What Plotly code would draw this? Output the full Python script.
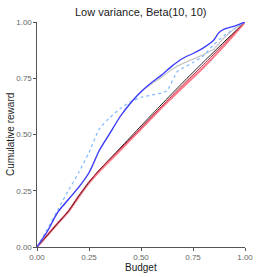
import plotly.graph_objects as go

# Budget grid for each series
x_blue = [0, 0.05, 0.1, 0.15, 0.2, 0.25, 0.3, 0.35, 0.4, 0.45, 0.5, 0.55, 0.6, 0.65, 0.7, 0.75, 0.8, 0.85, 0.875, 0.9, 0.95, 1.0]
y_blue = [0, 0.07, 0.155, 0.21, 0.265, 0.33, 0.43, 0.505, 0.58, 0.64, 0.69, 0.73, 0.765, 0.805, 0.838, 0.86, 0.885, 0.92, 0.953, 0.968, 0.982, 1.0]

x_gray = [0, 0.05, 0.1, 0.15, 0.2, 0.25, 0.3, 0.35, 0.4, 0.45, 0.5, 0.55, 0.6, 0.65, 0.7, 0.75, 0.8, 0.85, 0.9, 0.95, 1.0]
y_gray = [0, 0.07, 0.155, 0.21, 0.265, 0.33, 0.43, 0.505, 0.58, 0.64, 0.69, 0.725, 0.755, 0.79, 0.815, 0.835, 0.855, 0.88, 0.93, 0.97, 1.0]

x_dot = [0, 0.05, 0.1, 0.15, 0.2, 0.25, 0.3, 0.35, 0.4, 0.45, 0.5, 0.55, 0.6, 0.625, 0.675, 0.7, 0.75, 0.8, 0.85, 0.9, 0.95, 1.0]
y_dot = [0, 0.08, 0.165, 0.25, 0.33, 0.42, 0.525, 0.575, 0.615, 0.645, 0.665, 0.675, 0.685, 0.695, 0.78, 0.795, 0.82, 0.85, 0.9, 0.94, 0.97, 1.0]

x_ref = [0, 0.05, 0.1, 0.15, 0.2, 0.25, 0.3, 0.4, 0.5, 0.6, 0.7, 0.8, 0.9, 1.0]
y_black = [0, 0.052, 0.105, 0.158, 0.225, 0.288, 0.343, 0.44, 0.538, 0.635, 0.73, 0.822, 0.912, 1.0]
y_pink = [0, 0.052, 0.105, 0.156, 0.222, 0.285, 0.337, 0.43, 0.525, 0.62, 0.71, 0.798, 0.895, 1.0]
y_darkred = [0, 0.054, 0.108, 0.16, 0.228, 0.29, 0.342, 0.436, 0.53, 0.626, 0.72, 0.81, 0.905, 1.0]

x_ticks = [0, 0.25, 0.5, 0.75, 1.0]
x_tick_labels = ["0.00", "0.25", "0.50", "0.75", "1.00"]
y_ticks = [0, 0.25, 0.5, 0.75, 1.0]
y_tick_labels = ["0.00", "0.25", "0.50", "0.75", "1.00"]

fig = go.Figure()
fig.add_trace(go.Scatter(x=x_ref, y=y_pink, mode="lines", line=dict(color="#ff7a8a", width=2.2, shape="spline", smoothing=0.6)))
fig.add_trace(go.Scatter(x=x_ref, y=y_black, mode="lines", line=dict(color="#222222", width=1, shape="spline", smoothing=0.6)))
fig.add_trace(go.Scatter(x=x_ref, y=y_darkred, mode="lines", line=dict(color="#b8283f", width=1, shape="spline", smoothing=0.6)))
fig.add_trace(go.Scatter(x=x_gray, y=y_gray, mode="lines", line=dict(color="#c8c8c8", width=1.3, shape="spline", smoothing=0.6)))
fig.add_trace(go.Scatter(x=x_dot, y=y_dot, mode="lines", line=dict(color="#7fb8ff", width=1.2, dash="dot", shape="spline", smoothing=0.6)))
fig.add_trace(go.Scatter(x=x_blue, y=y_blue, mode="lines", line=dict(color="#3a3aff", width=1.3, shape="spline", smoothing=0.6)))

axis_common = dict(
    range=[0, 1], showgrid=False, zeroline=False, showline=True, automargin=False,
    linecolor="#555555", linewidth=1.2, ticks="outside", ticklen=2.5,
    tickcolor="#555555", tickfont=dict(size=8, color="#666666", family="Liberation Sans"),
)
title_font = dict(size=10, color="#1a1a1a", family="Liberation Sans")
fig.update_layout(
    width=277, height=277,
    margin=dict(l=36.5, r=32, t=22.3, b=30),
    paper_bgcolor="white", plot_bgcolor="white",
    showlegend=False,
    title=dict(text="Low variance, Beta(10, 10)", x=0.508, xanchor="center", y=0.957, yanchor="middle",
               font=dict(size=11, color="#1a1a1a", family="Liberation Sans")),
    xaxis=dict(**axis_common, tickvals=x_ticks, ticktext=x_tick_labels),
    yaxis=dict(**axis_common, tickvals=y_ticks, ticktext=y_tick_labels),
    annotations=[
        dict(text="Budget", xref="paper", yref="paper", x=0.5, y=-0.09, xanchor="center", yanchor="middle",
             showarrow=False, font=title_font),
        dict(text="Cumulative reward", xref="paper", yref="paper", x=-0.127, y=0.5, xanchor="center", yanchor="middle",
             textangle=-90, showarrow=False, font=title_font),
    ],
)
fig.write_html("out.html", config={"displayModeBar": False},
               post_script="document.body.style.margin='0';document.body.style.overflow='hidden';")
